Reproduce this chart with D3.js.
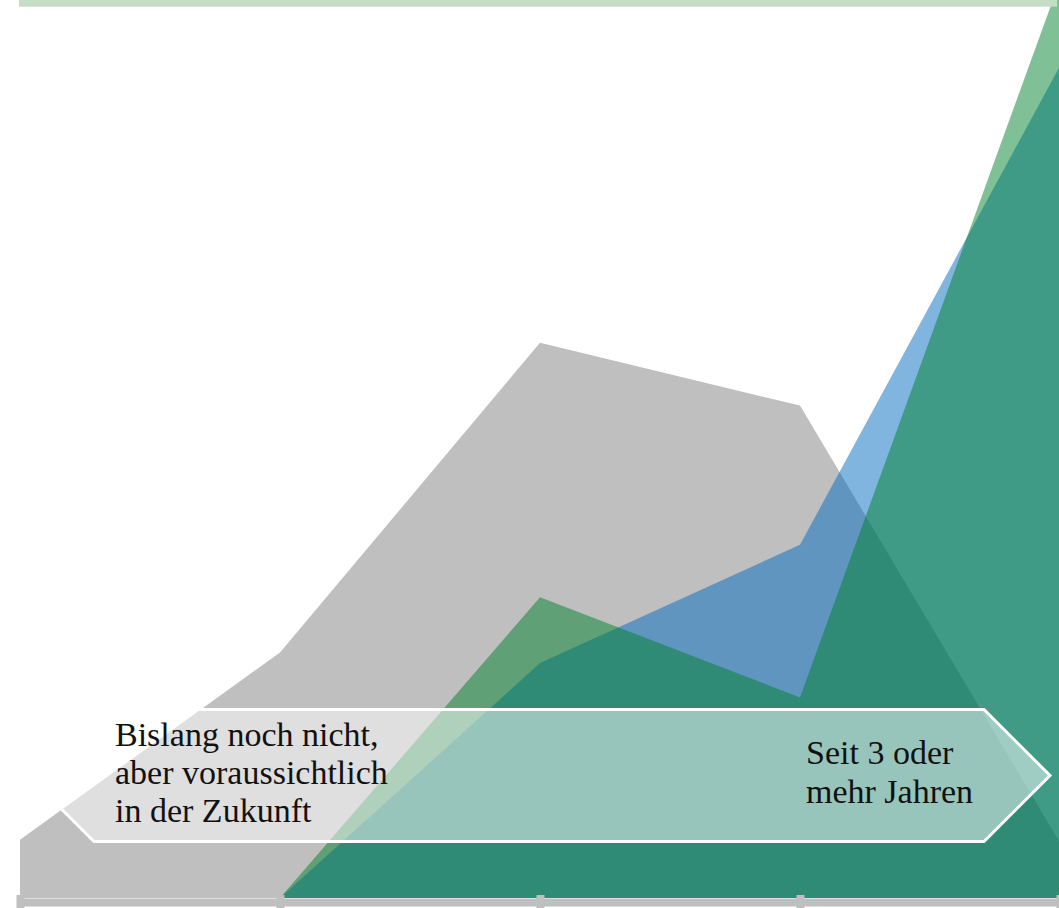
<html>
  <head>
    <script src="https://d3js.org/d3.v7.min.js"></script>
    <style>
      body { margin: 0; background: #fff; }
      .label { font-family: "Liberation Serif", serif; font-size: 34px; fill: #111; }
    </style>
  </head>
  <body>
    <script>
        // categories along the x axis (no tick labels are shown)
        var categories = ["Nein", "Zukunft", "< 1 Jahr", "1-2 Jahre", "3+ Jahre"];

        // series values (percent)
        var grayValues  = [3.9, 16.4, 37.1, 32.9, 3.7];
        var blueValues  = [0, 0, 15.7, 23.6, 55.6];
        var greenValues = [0, 0, 20.1, 13.4, 61.3];

        var leftLabel  = ["Bislang noch nicht,", "aber voraussichtlich", "in der Zukunft"];
        var rightLabel = ["Seit 3 oder", "mehr Jahren"];

        var width = 1059, height = 908;
        var svg = d3.select("body").append("svg")
            .attr("width", width)
            .attr("height", height);

        var x = d3.scalePoint().domain(categories).range([20, 1060]);
        var y = d3.scaleLinear().domain([0, 60]).range([898, 0]);

        var area = d3.area()
            .x(function (d) { return x(d.cat); })
            .y0(y(0))
            .y1(function (d) { return y(d.v); });

        function rows(vals) {
            return vals.map(function (v, i) { return { cat: categories[i], v: v }; });
        }

        // gray series, opaque
        svg.append("path")
            .datum(rows(grayValues))
            .attr("d", area)
            .attr("fill", "#bfbfbf");

        // blue series, half transparent
        svg.append("path")
            .datum(rows(blueValues).slice(1))
            .attr("d", area)
            .attr("fill", "rgb(0,107,189)")
            .attr("fill-opacity", 0.5);

        // green series on top
        svg.append("path")
            .datum(rows(greenValues).slice(1))
            .attr("d", area)
            .attr("fill", "rgb(0,129,45)")
            .attr("fill-opacity", 0.5);

        // top band
        svg.append("rect")
            .attr("x", 19).attr("y", 0)
            .attr("width", 1038).attr("height", 6.7)
            .attr("fill", "#c5dcc5");

        // banner arrow shape over the chart
        var bTop = 709.5, bBot = 841.5, bMid = (bTop + bBot) / 2, bh = (bBot - bTop) / 2;
        var bx0 = 28, bx1 = 1050;
        var banner = [
            [bx0, bMid], [bx0 + bh, bTop], [bx1 - bh, bTop],
            [bx1, bMid], [bx1 - bh, bBot], [bx0 + bh, bBot]
        ];
        svg.append("path")
            .attr("d", d3.line()(banner) + "Z")
            .attr("fill", "#ffffff")
            .attr("fill-opacity", 0.5)
            .attr("stroke", "#ffffff")
            .attr("stroke-width", 3)
            .attr("stroke-linejoin", "miter");

        // labels
        svg.append("text")
            .attr("class", "label")
            .selectAll("tspan")
            .data(leftLabel)
            .enter().append("tspan")
            .attr("x", 115)
            .attr("y", function (d, i) { return 746 + i * 37.8; })
            .text(function (d) { return d; });

        svg.append("text")
            .attr("class", "label")
            .selectAll("tspan")
            .data(rightLabel)
            .enter().append("tspan")
            .attr("x", 806)
            .attr("y", function (d, i) { return 764 + i * 39; })
            .text(function (d) { return d; });

        // x axis
        var axis = svg.append("g")
            .attr("transform", "translate(0,902)")
            .call(d3.axisBottom(x).tickSizeOuter(0).tickSize(0).tickFormat(""));

        axis.select(".domain")
            .attr("stroke", "#bfbfbf")
            .attr("stroke-width", 8);

        axis.selectAll(".tick line")
            .attr("stroke", "#bfbfbf")
            .attr("stroke-width", 8)
            .attr("y1", -7)
            .attr("y2", 8);
    </script>
  </body>
</html>
